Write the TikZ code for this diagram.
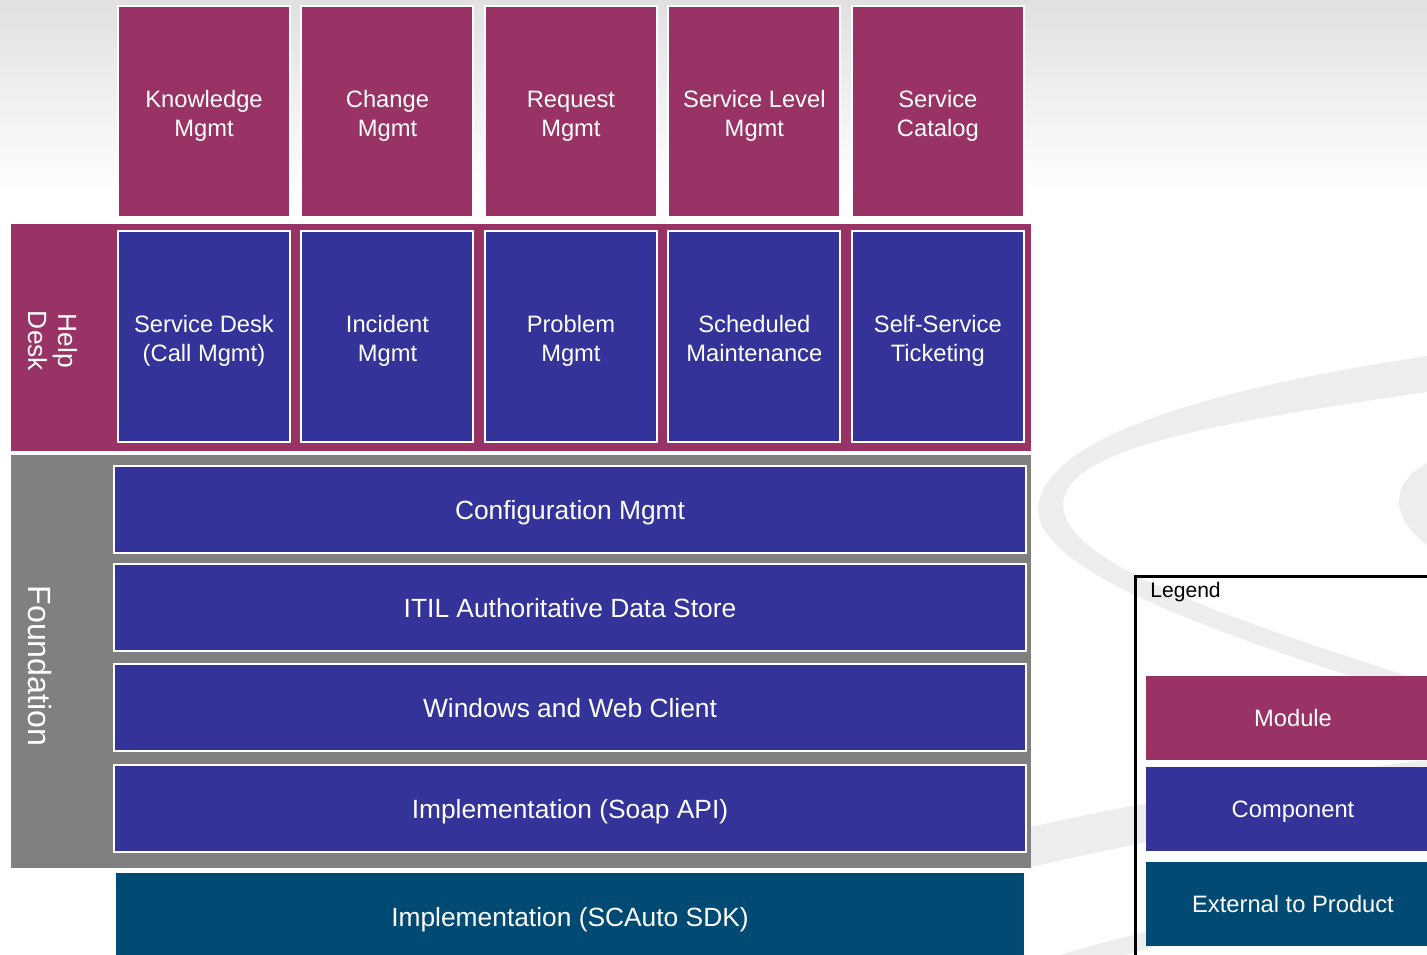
\documentclass[tikz,border=0pt]{standalone}
\usepackage{fontspec}
\setmainfont{Liberation Sans}
\usetikzlibrary{positioning,calc}
\definecolor{modcolor}{HTML}{993366}
\definecolor{compcolor}{HTML}{333399}
\definecolor{extcolor}{HTML}{004A73}
\definecolor{bandgray}{HTML}{808080}
\definecolor{swooshgray}{HTML}{EDEDED}
\tikzset{
	module/.style={
		rectangle, minimum width=3.44cm, minimum height=4.22cm, inner sep=0pt, outer sep=0pt,
		fill=modcolor, draw=white, line width=0.04cm, text=white, align=center,
		font=\fontsize{13.5}{16.5}\selectfont, text height=28.7pt, text depth=0pt
	},
	%
	component/.style={
		module, fill=compcolor
	},
	%
	layer/.style={
		component, minimum width=18.24cm, minimum height=1.74cm,
		font=\fontsize{15}{18}\selectfont, text height=10.9pt, text depth=0pt
	},
	%
	band/.style={
		rectangle, minimum width=20.4cm, inner sep=0pt, outer sep=0pt
	},
	%
	sidelabel/.style={
		rotate=-90, text=white, align=center, inner sep=0pt
	},
	%
	legenditem/.style={
		rectangle, minimum width=5.88cm, minimum height=1.68cm, inner sep=0pt, outer sep=0pt,
		text=white, font=\fontsize{13.5}{16.5}\selectfont, text height=9.7pt, text depth=0pt
	}
}

\begin{document}
\begin{tikzpicture}[x=0.02cm, y=-0.02cm]
    \useasboundingbox (0,0) rectangle (1427,954);
    \clip (0,0) rectangle (1427,954);
    % backdrop
    \shade[top color=black!12, bottom color=white] (0,0) rectangle (1427,195);
    \fill[swooshgray] (1427,356) .. controls (1200,390) and (1040,440) .. (1038,510)
        .. controls (1040,570) and (1200,630) .. (1427,700) -- (1427,682)
        .. controls (1200,610) and (1065,560) .. (1063,505)
        .. controls (1065,450) and (1200,425) .. (1427,392) -- cycle;
    \fill[swooshgray] (1427,463) .. controls (1405,475) and (1398,490) .. (1399,505)
        .. controls (1401,520) and (1413,535) .. (1427,545) -- cycle;
    \fill[swooshgray] (1031,827) .. controls (1150,800) and (1300,775) .. (1427,760) -- (1427,795)
        .. controls (1300,810) and (1150,840) .. (1031,867) -- cycle;
    \fill[swooshgray] (1045,960) .. controls (1100,940) and (1250,905) .. (1427,880) -- (1427,905)
        .. controls (1250,925) and (1150,945) .. (1110,960) -- cycle;
    % bands
    \node(hd)[band, fill=modcolor, minimum height=4.54cm] at (521,337.5){};
    \node(fd)[band, fill=bandgray, minimum height=8.26cm] at (521,661.5){};
    \node(hdlabel)[sidelabel, font=\fontsize{15}{17}\selectfont] at (53,341){Help\\Desk};
    \node(fdlabel)[sidelabel, font=\fontsize{18.3}{22}\selectfont] at (40,666){Foundation};
    % modules
    \node(km)[module] at (204,111.5){Knowledge\\Mgmt};
    \node(cm)[module, right=0.23cm of km]{Change\\Mgmt};
    \node(rm)[module, right=0.23cm of cm]{Request\\Mgmt};
    \node(slm)[module, right=0.23cm of rm]{Service Level\\Mgmt};
    \node(sc)[module, right=0.23cm of slm]{Service\\Catalog};
    % help desk components
    \node(sd)[component, below=0.28cm of km]{Service Desk\\(Call Mgmt)};
    \node(im)[component, below=0.28cm of cm]{Incident\\Mgmt};
    \node(pm)[component, below=0.28cm of rm]{Problem\\Mgmt};
    \node(smt)[component, below=0.28cm of slm]{Scheduled\\Maintenance};
    \node(sst)[component, below=0.28cm of sc]{Self-Service\\Ticketing};
    % foundation layers
    \node(cfg)[layer] at (570,509.5){Configuration Mgmt};
    \node(itil)[layer, below=0.22cm of cfg]{ITIL Authoritative Data Store};
    \node(web)[layer, below=0.26cm of itil]{Windows and Web Client};
    \node(soap)[layer, below=0.28cm of web]{Implementation (Soap API)};
    \node(sdk)[layer, fill=extcolor, draw=none, minimum width=18.18cm, minimum height=1.72cm, below=0.43cm of soap]{Implementation (SCAuto SDK)};
    % legend
    \node(legend)[draw, line width=0.06cm, outer sep=0pt, anchor=north west, minimum width=6.5cm, minimum height=8cm] at (1135.5,576.5){};
    \node(lgtitle)[anchor=west, inner sep=0pt, font=\fontsize{12}{14}\selectfont] at (1150,592){Legend};
    \node(lgmod)[legenditem, fill=modcolor] at (1293,718){Module};
    \node(lgcomp)[legenditem, fill=compcolor, below=0.14cm of lgmod]{Component};
    \node(lgext)[legenditem, fill=extcolor, below=0.22cm of lgcomp]{External to Product};
\end{tikzpicture}
\end{document}
